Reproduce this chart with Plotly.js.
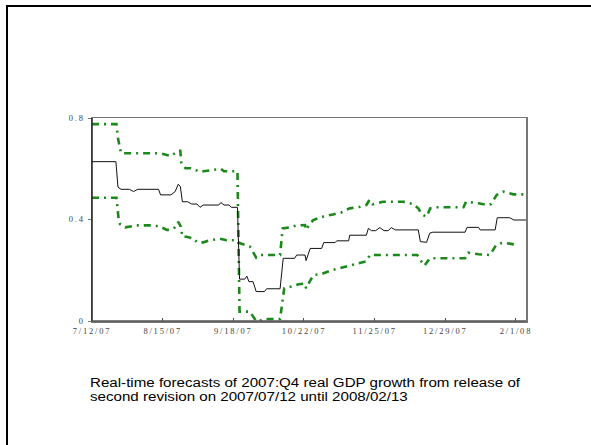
<!DOCTYPE html>
<html>
<head>
<meta charset="utf-8">
<script src="https://cdn.plot.ly/plotly-3.0.1.min.js"></script>
<style>
  html, body { margin: 0; padding: 0; background: #ffffff; }
  #wrap { position: relative; width: 591px; height: 445px; overflow: hidden; }
  #chart { position: absolute; left: 0; top: 0; width: 591px; height: 445px; }
  #frame { position: absolute; left: 6px; top: 5px; width: 700px; height: 600px;
           border-left: 2px solid #000; border-top: 2px solid #000; pointer-events: none; }
  #caption { position: absolute; left: 90px; top: 376px; white-space: nowrap;
             font-family: "Liberation Sans", Arial, sans-serif; font-size: 12px; line-height: 14px;
             color: #000; transform: scaleX(1.26); transform-origin: 0 0; }
  #chart .xtick text, #chart .ytick text { letter-spacing: 1.8px; }
</style>
</head>
<body>
<div id="wrap">
  <div id="chart"></div>
  <div id="caption"></div>
  <div id="frame"></div>
</div>
<script>
// Central real-time forecast (black line)
const centralDates = [
  "2007-07-12","2007-07-23 12:00","2007-07-24 12:00","2007-07-26","2007-07-30","2007-08-01","2007-08-03",
  "2007-08-13","2007-08-14","2007-08-19","2007-08-21","2007-08-22 12:00","2007-08-23 12:00","2007-08-24 12:00",
  "2007-08-27","2007-08-29","2007-08-31 12:00","2007-09-02","2007-09-03 12:00","2007-09-11","2007-09-12",
  "2007-09-13 12:00","2007-09-16","2007-09-17","2007-09-20","2007-09-21","2007-09-23 12:00","2007-09-24 12:00",
  "2007-09-25 12:00","2007-09-27 12:00","2007-09-29","2007-10-03","2007-10-04","2007-10-10 12:00","2007-10-12",
  "2007-10-17 12:00","2007-10-18 12:00","2007-10-22 12:00","2007-10-23","2007-10-25","2007-10-30 12:00",
  "2007-10-31 12:00","2007-11-06","2007-11-06 18:00","2007-11-12 12:00","2007-11-13","2007-11-21","2007-11-22",
  "2007-11-23 12:00","2007-11-25 12:00","2007-11-27 12:00","2007-11-29 12:00","2007-12-01 12:00","2007-12-03",
  "2007-12-05","2007-12-16","2007-12-17","2007-12-20","2007-12-21 12:00","2007-12-23","2008-01-07 12:00",
  "2008-01-08 12:00","2008-01-14","2008-01-14 18:00","2008-01-22","2008-01-23","2008-01-29","2008-01-31","2008-02-06"
];
const centralVals = [
  0.628,0.628,0.527,0.519,0.519,0.510,0.519,
  0.519,0.497,0.497,0.510,0.539,0.530,0.470,
  0.470,0.461,0.461,0.448,0.457,0.457,0.467,
  0.457,0.457,0.448,0.448,0.165,0.165,0.177,
  0.155,0.155,0.116,0.116,0.127,0.127,0.247,
  0.247,0.260,0.260,0.238,0.286,0.286,
  0.309,0.309,0.316,0.316,0.338,0.338,0.365,
  0.356,0.356,0.368,0.356,0.356,0.368,
  0.359,0.359,0.313,0.310,0.346,0.350,0.350,
  0.369,0.369,0.359,0.359,0.407,0.407,0.398,0.398
];

// Band that starts at the top (green, dashed)
const bandADates = [
  "2007-07-12","2007-07-23 18:00","2007-07-24 12:00","2007-07-25 12:00","2007-07-26","2007-08-14","2007-08-19",
  "2007-08-22 12:00","2007-08-23 12:00","2007-08-24","2007-08-26","2007-08-28 12:00","2007-09-02","2007-09-03 12:00",
  "2007-09-12","2007-09-13 12:00","2007-09-20","2007-09-21","2007-09-26","2007-09-27","2007-09-29","2007-09-30 12:00",
  "2007-10-03","2007-10-10 12:00","2007-10-12 12:00","2007-10-15 12:00","2007-10-19 12:00","2007-10-22 12:00",
  "2007-10-23","2007-10-26 12:00","2007-10-30 12:00","2007-11-03 12:00","2007-11-08","2007-11-12 12:00",
  "2007-11-17","2007-11-21","2007-11-22 18:00","2007-12-15 12:00","2007-12-17","2007-12-19","2007-12-21 12:00",
  "2008-01-07 12:00","2008-01-09","2008-01-14","2008-01-19 12:00","2008-01-22 12:00","2008-01-25 18:00","2008-02-01 12:00"
];
const bandAVals = [
  0.776,0.776,0.720,0.670,0.661,0.661,0.650,
  0.671,0.671,0.620,0.602,0.602,0.588,0.590,
  0.600,0.590,0.590,0.037,0.037,0.024,0.000,0.000,
  0.008,0.008,0.129,0.135,0.145,0.148,
  0.129,0.181,0.185,0.198,0.207,0.218,
  0.227,0.235,0.260,0.260,0.240,0.218,0.247,
  0.247,0.269,0.263,0.260,0.300,0.309,0.300
];

// Band that starts lower (green, dashed)
const bandBDates = [
  "2007-07-12","2007-07-23 18:00","2007-07-24","2007-07-24 18:00","2007-07-25 12:00","2007-07-28","2007-08-02 12:00",
  "2007-08-10 12:00","2007-08-13 18:00","2007-08-17","2007-08-18 12:00","2007-08-21","2007-08-22 12:00","2007-08-23 18:00",
  "2007-08-24 12:00","2007-08-26 12:00","2007-08-30","2007-08-31 12:00","2007-09-03 12:00","2007-09-06 18:00",
  "2007-09-11 12:00","2007-09-14 18:00","2007-09-19 12:00","2007-09-21","2007-09-26","2007-09-29","2007-09-30 18:00",
  "2007-10-10 12:00","2007-10-11 18:00","2007-10-15","2007-10-18 12:00","2007-10-22 12:00","2007-10-23","2007-10-25",
  "2007-10-26 12:00","2007-10-31","2007-11-05","2007-11-09","2007-11-13","2007-11-18","2007-11-21","2007-11-22 12:00",
  "2007-11-24","2007-11-29","2007-12-08 18:00","2007-12-13 12:00","2007-12-16","2007-12-17 18:00","2007-12-20",
  "2007-12-21 18:00","2007-12-24 18:00","2008-01-06 18:00","2008-01-08","2008-01-14","2008-01-18","2008-01-20",
  "2008-01-22 18:00","2008-01-25 18:00","2008-01-30 18:00","2008-02-06"
];
const bandBVals = [
  0.486,0.486,0.470,0.405,0.382,0.369,0.377,
  0.377,0.372,0.359,0.359,0.369,0.391,0.372,
  0.332,0.332,0.325,0.310,0.310,0.318,
  0.324,0.318,0.318,0.307,0.293,0.250,0.260,
  0.260,0.365,0.369,0.377,0.378,0.359,0.385,
  0.398,0.411,0.420,0.428,0.444,0.450,0.457,0.477,
  0.460,0.470,0.470,0.461,0.444,0.420,0.411,
  0.444,0.448,0.448,0.470,0.464,0.457,0.461,
  0.497,0.510,0.499,0.499
];

const xTickVals = ["2007-07-12","2007-08-15","2007-09-18","2007-10-22","2007-11-25","2007-12-29","2008-02-01"];
const xTickText = ["7/12/07","8/15/07","9/18/07","10/22/07","11/25/07","12/29/07","2/1/08"];
const yTickVals = [0, 0.4, 0.8];
const yTickText = ["0","0.4","0.8"];
const captionLines = [
  "Real-time forecasts of 2007:Q4 real GDP growth from release of",
  "second revision on 2007/07/12 until 2008/02/13"
];

// caption as real text
const cap = document.getElementById("caption");
captionLines.forEach(function (t) {
  const d = document.createElement("div");
  d.textContent = t;
  cap.appendChild(d);
});

const green = "#1b8a1b";
const bandLine = {color: green, width: 2.6, dash: "7px,5px,2px,5px"};

const traces = [
  {x: bandADates, y: bandAVals, type: "scatter", mode: "lines", line: bandLine, hoverinfo: "skip"},
  {x: bandBDates, y: bandBVals, type: "scatter", mode: "lines", line: bandLine, hoverinfo: "skip"},
  {x: centralDates, y: centralVals, type: "scatter", mode: "lines", line: {color: "#111", width: 1}, hoverinfo: "skip"}
];

const tickFont = {family: "Liberation Serif, Times New Roman, serif", size: 8.5, color: "#444"};

const layout = {
  width: 591, height: 445,
  margin: {l: 92, r: 65, t: 118, b: 124},
  paper_bgcolor: "#ffffff",
  plot_bgcolor: "#ffffff",
  showlegend: false,
  xaxis: {
    type: "date",
    range: ["2007-07-12", "2008-02-05 20:00"],
    tickvals: xTickVals, ticktext: xTickText,
    ticks: "inside", ticklen: 3, tickcolor: "#555", tickwidth: 1,
    showgrid: false, zeroline: false,
    showline: true, linecolor: "#777", linewidth: 1.5, mirror: true,
    tickfont: tickFont, ticklabelstandoff: 1
  },
  yaxis: {
    range: [0, 0.8],
    tickvals: yTickVals, ticktext: yTickText,
    ticks: "outside", ticklen: 3, tickcolor: "#777", tickwidth: 1,
    showgrid: false, zeroline: false,
    showline: true, linecolor: "#777", linewidth: 1.5, mirror: true,
    tickfont: tickFont, ticklabelstandoff: 1
  },
  shapes: [
    {type: "line", xref: "paper", yref: "paper", x0: 0, x1: 0, y0: 0, y1: 1, line: {color: "#222", width: 1.5}},
    {type: "line", xref: "paper", yref: "paper", x0: 0, x1: 1, y0: 0, y1: 0, line: {color: "#555", width: 1.5}}
  ]
};

Plotly.newPlot("chart", traces, layout, {staticPlot: true, displayModeBar: false});
</script>
</body>
</html>
